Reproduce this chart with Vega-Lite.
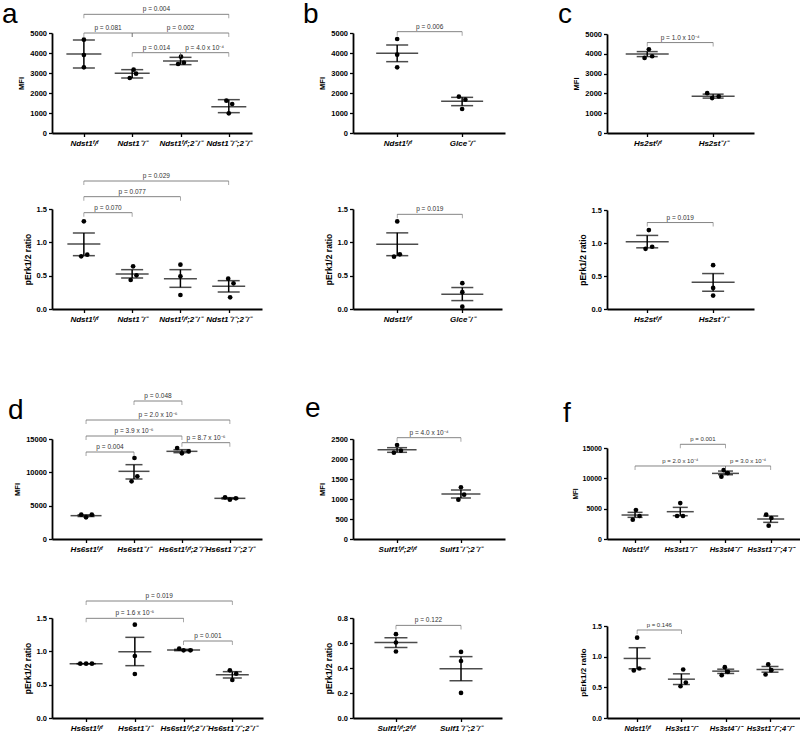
{
"$schema": "https://vega.github.io/schema/vega-lite/v6.json",
"padding": {"left": 2, "top": 0, "right": 0, "bottom": 0},
"background": "white",
"datasets": {
"pts": [
{"p":"aM","x":1,"v":4667},{"p":"aM","x":1,"v":3900},{"p":"aM","x":1,"v":3283},
{"p":"aM","x":2.03,"v":3167},{"p":"aM","x":2.08,"v":2967},{"p":"aM","x":1.95,"v":2750},
{"p":"aM","x":3.01,"v":3817},{"p":"aM","x":3.07,"v":3517},{"p":"aM","x":2.95,"v":3450},
{"p":"aM","x":3.95,"v":1617},{"p":"aM","x":4.07,"v":1450},{"p":"aM","x":4,"v":983},
{"p":"aE","x":1,"v":1.315},{"p":"aE","x":0.945,"v":0.79},{"p":"aE","x":1.07,"v":0.815},
{"p":"aE","x":2.02,"v":0.64},{"p":"aE","x":2.09,"v":0.505},{"p":"aE","x":1.97,"v":0.435},
{"p":"aE","x":3,"v":0.665},{"p":"aE","x":3,"v":0.49},{"p":"aE","x":3,"v":0.21},
{"p":"aE","x":3.99,"v":0.455},{"p":"aE","x":4.1,"v":0.385},{"p":"aE","x":4.03,"v":0.175},
{"p":"bM","x":1,"v":4700},{"p":"bM","x":1,"v":3917},{"p":"bM","x":1,"v":3283},
{"p":"bM","x":1.95,"v":1817},{"p":"bM","x":2.05,"v":1667},{"p":"bM","x":2,"v":1200},
{"p":"bE","x":1,"v":1.313},{"p":"bE","x":0.95,"v":0.785},{"p":"bE","x":1.04,"v":0.82},
{"p":"bE","x":2,"v":0.387},{"p":"bE","x":2,"v":0.252},{"p":"bE","x":2,"v":0.035},
{"p":"cM","x":1.025,"v":4228},{"p":"cM","x":0.96,"v":3792},{"p":"cM","x":1.075,"v":3876},
{"p":"cM","x":1.91,"v":2013},{"p":"cM","x":1.985,"v":1762},{"p":"cM","x":2.085,"v":1846},
{"p":"cE","x":1.025,"v":1.196},{"p":"cE","x":0.975,"v":0.912},{"p":"cE","x":1.075,"v":0.943},
{"p":"cE","x":2,"v":0.664},{"p":"cE","x":2,"v":0.319},{"p":"cE","x":2,"v":0.203},
{"p":"dM","x":0.9,"v":3650},{"p":"dM","x":1,"v":3250},{"p":"dM","x":1.12,"v":3650},
{"p":"dM","x":2.01,"v":12150},{"p":"dM","x":2.07,"v":9400},{"p":"dM","x":1.95,"v":8650},
{"p":"dM","x":2.9,"v":13650},{"p":"dM","x":3,"v":12850},{"p":"dM","x":3.14,"v":13150},
{"p":"dM","x":3.9,"v":6250},{"p":"dM","x":4,"v":5900},{"p":"dM","x":4.125,"v":6100},
{"p":"dE","x":0.88,"v":0.815},{"p":"dE","x":1,"v":0.815},{"p":"dE","x":1.12,"v":0.815},
{"p":"dE","x":2,"v":1.4},{"p":"dE","x":2,"v":0.93},{"p":"dE","x":2,"v":0.66},
{"p":"dE","x":2.91,"v":1.04},{"p":"dE","x":3,"v":1.015},{"p":"dE","x":3.14,"v":1.015},
{"p":"dE","x":3.95,"v":0.715},{"p":"dE","x":4.08,"v":0.665},{"p":"dE","x":4,"v":0.57},
{"p":"eM","x":1,"v":2350},{"p":"eM","x":0.95,"v":2158},{"p":"eM","x":1.06,"v":2208},
{"p":"eM","x":2,"v":1292},{"p":"eM","x":2.05,"v":1108},{"p":"eM","x":1.96,"v":983},
{"p":"eE","x":1,"v":0.671},{"p":"eE","x":1,"v":0.604},{"p":"eE","x":1,"v":0.532},
{"p":"eE","x":2,"v":0.529},{"p":"eE","x":2,"v":0.456},{"p":"eE","x":2,"v":0.201},
{"p":"fM","x":1.02,"v":4776},{"p":"fM","x":1.1,"v":3788},{"p":"fM","x":0.95,"v":3184},
{"p":"fM","x":2,"v":5929},{"p":"fM","x":1.93,"v":3788},{"p":"fM","x":2.06,"v":3788},
{"p":"fM","x":2.96,"v":11364},{"p":"fM","x":3.05,"v":10870},{"p":"fM","x":2.91,"v":10266},
{"p":"fM","x":3.9,"v":4008},{"p":"fM","x":4.015,"v":3459},{"p":"fM","x":3.955,"v":2196},
{"p":"fE","x":1,"v":1.309},{"p":"fE","x":0.925,"v":0.775},{"p":"fE","x":1.05,"v":0.807},
{"p":"fE","x":2.04,"v":0.791},{"p":"fE","x":2.1,"v":0.578},{"p":"fE","x":1.98,"v":0.518},
{"p":"fE","x":2.98,"v":0.829},{"p":"fE","x":3.05,"v":0.753},{"p":"fE","x":2.91,"v":0.698},
{"p":"fE","x":3.96,"v":0.873},{"p":"fE","x":4.03,"v":0.78},{"p":"fE","x":3.9,"v":0.709}
],
"sum": [
{"p":"aM","x":1,"m":3950,"lo":3250,"hi":4650},
{"p":"aM","x":2,"m":2983,"lo":2750,"hi":3167},
{"p":"aM","x":3,"m":3600,"lo":3417,"hi":3783},
{"p":"aM","x":4,"m":1317,"lo":1017,"hi":1667},
{"p":"aE","x":1,"m":0.975,"lo":0.8,"hi":1.14},
{"p":"aE","x":2,"m":0.525,"lo":0.465,"hi":0.59},
{"p":"aE","x":3,"m":0.455,"lo":0.325,"hi":0.59},
{"p":"aE","x":4,"m":0.34,"lo":0.255,"hi":0.425},
{"p":"bM","x":1,"m":3983,"lo":3567,"hi":4400},
{"p":"bM","x":2,"m":1583,"lo":1367,"hi":1783},
{"p":"bE","x":1,"m":0.971,"lo":0.8,"hi":1.142},
{"p":"bE","x":2,"m":0.221,"lo":0.126,"hi":0.322},
{"p":"cM","x":1,"m":3993,"lo":3859,"hi":4111},
{"p":"cM","x":2,"m":1862,"lo":1762,"hi":1963},
{"p":"cE","x":1,"m":1.019,"lo":0.927,"hi":1.115},
{"p":"cE","x":2,"m":0.405,"lo":0.269,"hi":0.537},
{"p":"dM","x":1,"m":3500,"lo":3370,"hi":3630},
{"p":"dM","x":2,"m":10150,"lo":9000,"hi":11150},
{"p":"dM","x":3,"m":13150,"lo":12950,"hi":13400},
{"p":"dM","x":4,"m":6100,"lo":6000,"hi":6200},
{"p":"dE","x":1,"m":0.815,"lo":0.815,"hi":0.815},
{"p":"dE","x":2,"m":0.995,"lo":0.785,"hi":1.21},
{"p":"dE","x":3,"m":1.02,"lo":1.01,"hi":1.03},
{"p":"dE","x":4,"m":0.65,"lo":0.6,"hi":0.695},
{"p":"eM","x":1,"m":2233,"lo":2167,"hi":2283},
{"p":"eM","x":2,"m":1125,"lo":1025,"hi":1225},
{"p":"eE","x":1,"m":0.604,"lo":0.564,"hi":0.642},
{"p":"eE","x":2,"m":0.395,"lo":0.298,"hi":0.491},
{"p":"fM","x":1,"m":3953,"lo":3568,"hi":4392},
{"p":"fM","x":2,"m":4502,"lo":3843,"hi":5215},
{"p":"fM","x":3,"m":10815,"lo":10595,"hi":11199},
{"p":"fM","x":4,"m":3294,"lo":2745,"hi":3788},
{"p":"fE","x":1,"m":0.971,"lo":0.802,"hi":1.146},
{"p":"fE","x":2,"m":0.633,"lo":0.546,"hi":0.72},
{"p":"fE","x":3,"m":0.764,"lo":0.726,"hi":0.796},
{"p":"fE","x":4,"m":0.791,"lo":0.747,"hi":0.84}
],
"brk": [
{"p":"aM","x1":1,"x2":4,"xm":2.5,"y":5933,"t":"p = 0.004"},
{"p":"aM","x1":1,"x2":2,"xm":1.5,"y":5000,"t":"p = 0.081"},
{"p":"aM","x1":2,"x2":4,"xm":3,"y":5000,"t":"p = 0.002"},
{"p":"aM","x1":2,"x2":3,"xm":2.5,"y":4017,"t":"p = 0.014"},
{"p":"aM","x1":3,"x2":4,"xm":3.5,"y":4017,"t":"p = 4.0 x 10⁻⁴"},
{"p":"aE","x1":1,"x2":4,"xm":2.5,"y":1.92,"t":"p = 0.029"},
{"p":"aE","x1":1,"x2":3,"xm":2,"y":1.685,"t":"p = 0.077"},
{"p":"aE","x1":1,"x2":2,"xm":1.5,"y":1.445,"t":"p = 0.070"},
{"p":"bM","x1":1,"x2":2,"xm":1.5,"y":5067,"t":"p = 0.006"},
{"p":"bE","x1":1,"x2":2,"xm":1.5,"y":1.42,"t":"p = 0.019"},
{"p":"cM","x1":1,"x2":2,"xm":1.5,"y":4567,"t":"p = 1.0 x 10⁻⁴"},
{"p":"cE","x1":1,"x2":2,"xm":1.5,"y":1.31,"t":"p = 0.019"},
{"p":"dM","x1":2,"x2":3,"xm":2.5,"y":20700,"t":"p = 0.048"},
{"p":"dM","x1":1,"x2":4,"xm":2.5,"y":17850,"t":"p = 2.0 x 10⁻⁶"},
{"p":"dM","x1":1,"x2":3,"xm":2,"y":15450,"t":"p = 3.9 x 10⁻⁶"},
{"p":"dM","x1":1,"x2":2,"xm":1.5,"y":13050,"t":"p = 0.004"},
{"p":"dM","x1":3,"x2":4,"xm":3.5,"y":14450,"t":"p = 8.7 x 10⁻⁶"},
{"p":"dE","x1":1,"x2":4,"xm":2.5,"y":1.755,"t":"p = 0.019"},
{"p":"dE","x1":1,"x2":3,"xm":2,"y":1.495,"t":"p = 1.6 x 10⁻⁵"},
{"p":"dE","x1":3,"x2":4,"xm":3.5,"y":1.155,"t":"p = 0.001"},
{"p":"eM","x1":1,"x2":2,"xm":1.5,"y":2533,"t":"p = 4.0 x 10⁻⁴"},
{"p":"eE","x1":1,"x2":2,"xm":1.5,"y":0.741,"t":"p = 0.122"},
{"p":"fM","x1":2,"x2":3,"xm":2.5,"y":15610,"t":"p = 0.001"},
{"p":"fM","x1":1,"x2":3,"xm":2,"y":12033,"t":"p = 2.0 x 10⁻⁴"},
{"p":"fM","x1":3,"x2":4,"xm":3.5,"y":12033,"t":"p = 3.0 x 10⁻⁴"},
{"p":"fE","x1":1,"x2":2,"xm":1.5,"y":1.435,"t":"p = 0.146"}
]
},
"bounds": "flush",
"columns": 3,
"align": {"row": "each", "column": "each"},
"spacing": {"row": 0, "column": 90},
"concat": [
{"width": 200, "height": 100, "title": {"text": "a", "dx": -50, "dy": 27},
"layer": [
{"data": {"name": "pts"}, "transform": [{"filter": "datum.p=='aM'"}], "mark": {"type": "circle", "size": 22, "color": "black", "opacity": 1},
"encoding": {"x": {"field": "x", "type": "quantitative", "scale": {"domain": [0.34, 4.48], "nice": false, "zero": false}, "axis": {"values": [1,2,3,4], "tickCount": 10, "title": null, "labelExpr": "['','Ndst1ᶠ/ᶠ','Ndst1⁻/⁻','Ndst1ᶠ/ᶠ;2⁻/⁻','Ndst1⁻/⁻;2⁻/⁻'][datum.value]"}},
"y": {"field": "v", "type": "quantitative", "scale": {"domain": [0, 5000], "nice": false}, "axis": {"values": [0,1000,2000,3000,4000,5000], "tickCount": 10, "format": "d", "title": "MFI"}}}},
{"data": {"name": "sum"}, "transform": [{"filter": "datum.p=='aM'"}], "encoding": {"x": {"field": "x", "type": "quantitative"}},
"layer": [
{"mark": {"type": "tick", "orient": "horizontal", "size": 35}, "encoding": {"y": {"field": "m", "type": "quantitative"}}},
{"mark": {"type": "rule"}, "encoding": {"y": {"field": "lo", "type": "quantitative"}, "y2": {"field": "hi"}}},
{"mark": {"type": "tick", "orient": "horizontal", "size": 22}, "encoding": {"y": {"field": "lo", "type": "quantitative"}}},
{"mark": {"type": "tick", "orient": "horizontal", "size": 22}, "encoding": {"y": {"field": "hi", "type": "quantitative"}}}]},
{"data": {"name": "brk"}, "transform": [{"filter": "datum.p=='aM'"}], "encoding": {"y": {"field": "y", "type": "quantitative"}},
"layer": [
{"mark": {"type": "rule", "color": "#666", "strokeWidth": 0.8}, "encoding": {"x": {"field": "x1", "type": "quantitative"}, "x2": {"field": "x2"}}},
{"mark": {"type": "tick", "orient": "vertical", "size": 4, "yOffset": 2, "thickness": 0.8, "color": "#666"}, "encoding": {"x": {"field": "x1", "type": "quantitative"}}},
{"mark": {"type": "tick", "orient": "vertical", "size": 4, "yOffset": 2, "thickness": 0.8, "color": "#666"}, "encoding": {"x": {"field": "x2", "type": "quantitative"}}},
{"mark": {"type": "text", "dy": -3, "fontSize": 6.5, "baseline": "alphabetic", "color": "#333"}, "encoding": {"x": {"field": "xm", "type": "quantitative"}, "text": {"field": "t"}}}]}
]},
{"width": 152, "height": 100, "title": {"text": "b", "dx": -50, "dy": 9},
"layer": [
{"data": {"name": "pts"}, "transform": [{"filter": "datum.p=='bM'"}], "mark": {"type": "circle", "size": 22, "color": "black", "opacity": 1},
"encoding": {"x": {"field": "x", "type": "quantitative", "scale": {"domain": [0.32, 2.66], "nice": false, "zero": false}, "axis": {"values": [1,2], "tickCount": 10, "title": null, "labelExpr": "['','Ndst1ᶠ/ᶠ','Glce⁻/⁻'][datum.value]"}},
"y": {"field": "v", "type": "quantitative", "scale": {"domain": [0, 5000], "nice": false}, "axis": {"values": [0,1000,2000,3000,4000,5000], "tickCount": 10, "format": "d", "title": "MFI"}}}},
{"data": {"name": "sum"}, "transform": [{"filter": "datum.p=='bM'"}], "encoding": {"x": {"field": "x", "type": "quantitative"}},
"layer": [
{"mark": {"type": "tick", "orient": "horizontal", "size": 42}, "encoding": {"y": {"field": "m", "type": "quantitative"}}},
{"mark": {"type": "rule"}, "encoding": {"y": {"field": "lo", "type": "quantitative"}, "y2": {"field": "hi"}}},
{"mark": {"type": "tick", "orient": "horizontal", "size": 22}, "encoding": {"y": {"field": "lo", "type": "quantitative"}}},
{"mark": {"type": "tick", "orient": "horizontal", "size": 22}, "encoding": {"y": {"field": "hi", "type": "quantitative"}}}]},
{"data": {"name": "brk"}, "transform": [{"filter": "datum.p=='bM'"}], "encoding": {"y": {"field": "y", "type": "quantitative"}},
"layer": [
{"mark": {"type": "rule", "color": "#666", "strokeWidth": 0.8}, "encoding": {"x": {"field": "x1", "type": "quantitative"}, "x2": {"field": "x2"}}},
{"mark": {"type": "tick", "orient": "vertical", "size": 4, "yOffset": 2, "thickness": 0.8, "color": "#666"}, "encoding": {"x": {"field": "x1", "type": "quantitative"}}},
{"mark": {"type": "tick", "orient": "vertical", "size": 4, "yOffset": 2, "thickness": 0.8, "color": "#666"}, "encoding": {"x": {"field": "x2", "type": "quantitative"}}},
{"mark": {"type": "text", "dy": -3, "fontSize": 6.5, "baseline": "alphabetic", "color": "#333"}, "encoding": {"x": {"field": "xm", "type": "quantitative"}, "text": {"field": "t"}}}]}
]},
{"width": 147, "height": 100, "title": {"text": "c", "dx": -49, "dy": 3},
"layer": [
{"data": {"name": "pts"}, "transform": [{"filter": "datum.p=='cM'"}], "mark": {"type": "circle", "size": 22, "color": "black", "opacity": 1},
"encoding": {"x": {"field": "x", "type": "quantitative", "scale": {"domain": [0.39, 2.62], "nice": false, "zero": false}, "axis": {"values": [1,2], "tickCount": 10, "title": null, "labelExpr": "['','Hs2stᶠ/ᶠ','Hs2st⁻/⁻'][datum.value]"}},
"y": {"field": "v", "type": "quantitative", "scale": {"domain": [0, 5000], "nice": false, "range": [100, 1]}, "axis": {"values": [0,1000,2000,3000,4000,5000], "tickCount": 10, "format": "d", "title": "MFI"}}}},
{"data": {"name": "sum"}, "transform": [{"filter": "datum.p=='cM'"}], "encoding": {"x": {"field": "x", "type": "quantitative"}},
"layer": [
{"mark": {"type": "tick", "orient": "horizontal", "size": 43}, "encoding": {"y": {"field": "m", "type": "quantitative"}}},
{"mark": {"type": "rule"}, "encoding": {"y": {"field": "lo", "type": "quantitative"}, "y2": {"field": "hi"}}},
{"mark": {"type": "tick", "orient": "horizontal", "size": 21}, "encoding": {"y": {"field": "lo", "type": "quantitative"}}},
{"mark": {"type": "tick", "orient": "horizontal", "size": 21}, "encoding": {"y": {"field": "hi", "type": "quantitative"}}}]},
{"data": {"name": "brk"}, "transform": [{"filter": "datum.p=='cM'"}], "encoding": {"y": {"field": "y", "type": "quantitative"}},
"layer": [
{"mark": {"type": "rule", "color": "#666", "strokeWidth": 0.8}, "encoding": {"x": {"field": "x1", "type": "quantitative"}, "x2": {"field": "x2"}}},
{"mark": {"type": "tick", "orient": "vertical", "size": 4, "yOffset": 2, "thickness": 0.8, "color": "#666"}, "encoding": {"x": {"field": "x1", "type": "quantitative"}}},
{"mark": {"type": "tick", "orient": "vertical", "size": 4, "yOffset": 2, "thickness": 0.8, "color": "#666"}, "encoding": {"x": {"field": "x2", "type": "quantitative"}}},
{"mark": {"type": "text", "dy": -3, "fontSize": 6.5, "baseline": "alphabetic", "color": "#333"}, "encoding": {"x": {"field": "xm", "type": "quantitative"}, "text": {"field": "t"}}}]}
]},
{"width": 1, "height": 76, "data": {"values": []}, "mark": "point"},
{"width": 164, "height": 76, "data": {"values": []}, "mark": "point"},
{"width": 1, "height": 76, "data": {"values": []}, "mark": "point"},
{"width": 210, "height": 100,
"layer": [
{"data": {"name": "pts"}, "transform": [{"filter": "datum.p=='aE'"}], "mark": {"type": "circle", "size": 22, "color": "black", "opacity": 1},
"encoding": {"x": {"field": "x", "type": "quantitative", "scale": {"domain": [0.34, 4.69], "nice": false, "zero": false}, "axis": {"values": [1,2,3,4], "tickCount": 10, "title": null, "labelExpr": "['','Ndst1ᶠ/ᶠ','Ndst1⁻/⁻','Ndst1ᶠ/ᶠ;2⁻/⁻','Ndst1⁻/⁻;2⁻/⁻'][datum.value]"}},
"y": {"field": "v", "type": "quantitative", "scale": {"domain": [0, 1.5], "nice": false}, "axis": {"values": [0,0.5,1,1.5], "tickCount": 10, "format": ".1f", "title": "pErk1/2 ratio", "titleFontSize": 8.5}}}},
{"data": {"name": "sum"}, "transform": [{"filter": "datum.p=='aE'"}], "encoding": {"x": {"field": "x", "type": "quantitative"}},
"layer": [
{"mark": {"type": "tick", "orient": "horizontal", "size": 33}, "encoding": {"y": {"field": "m", "type": "quantitative"}}},
{"mark": {"type": "rule"}, "encoding": {"y": {"field": "lo", "type": "quantitative"}, "y2": {"field": "hi"}}},
{"mark": {"type": "tick", "orient": "horizontal", "size": 22}, "encoding": {"y": {"field": "lo", "type": "quantitative"}}},
{"mark": {"type": "tick", "orient": "horizontal", "size": 22}, "encoding": {"y": {"field": "hi", "type": "quantitative"}}}]},
{"data": {"name": "brk"}, "transform": [{"filter": "datum.p=='aE'"}], "encoding": {"y": {"field": "y", "type": "quantitative"}},
"layer": [
{"mark": {"type": "rule", "color": "#666", "strokeWidth": 0.8}, "encoding": {"x": {"field": "x1", "type": "quantitative"}, "x2": {"field": "x2"}}},
{"mark": {"type": "tick", "orient": "vertical", "size": 4, "yOffset": 2, "thickness": 0.8, "color": "#666"}, "encoding": {"x": {"field": "x1", "type": "quantitative"}}},
{"mark": {"type": "tick", "orient": "vertical", "size": 4, "yOffset": 2, "thickness": 0.8, "color": "#666"}, "encoding": {"x": {"field": "x2", "type": "quantitative"}}},
{"mark": {"type": "text", "dy": -3, "fontSize": 6.5, "baseline": "alphabetic", "color": "#333"}, "encoding": {"x": {"field": "xm", "type": "quantitative"}, "text": {"field": "t"}}}]}
]},
{"width": 149, "height": 100,
"layer": [
{"data": {"name": "pts"}, "transform": [{"filter": "datum.p=='bE'"}], "mark": {"type": "circle", "size": 22, "color": "black", "opacity": 1},
"encoding": {"x": {"field": "x", "type": "quantitative", "scale": {"domain": [0.32, 2.61], "nice": false, "zero": false}, "axis": {"values": [1,2], "tickCount": 10, "title": null, "labelExpr": "['','Ndst1ᶠ/ᶠ','Glce⁻/⁻'][datum.value]"}},
"y": {"field": "v", "type": "quantitative", "scale": {"domain": [0, 1.5], "nice": false}, "axis": {"values": [0,0.5,1,1.5], "tickCount": 10, "format": ".1f", "title": "pErk1/2 ratio", "titleFontSize": 8.5}}}},
{"data": {"name": "sum"}, "transform": [{"filter": "datum.p=='bE'"}], "encoding": {"x": {"field": "x", "type": "quantitative"}},
"layer": [
{"mark": {"type": "tick", "orient": "horizontal", "size": 42}, "encoding": {"y": {"field": "m", "type": "quantitative"}}},
{"mark": {"type": "rule"}, "encoding": {"y": {"field": "lo", "type": "quantitative"}, "y2": {"field": "hi"}}},
{"mark": {"type": "tick", "orient": "horizontal", "size": 22}, "encoding": {"y": {"field": "lo", "type": "quantitative"}}},
{"mark": {"type": "tick", "orient": "horizontal", "size": 22}, "encoding": {"y": {"field": "hi", "type": "quantitative"}}}]},
{"data": {"name": "brk"}, "transform": [{"filter": "datum.p=='bE'"}], "encoding": {"y": {"field": "y", "type": "quantitative"}},
"layer": [
{"mark": {"type": "rule", "color": "#666", "strokeWidth": 0.8}, "encoding": {"x": {"field": "x1", "type": "quantitative"}, "x2": {"field": "x2"}}},
{"mark": {"type": "tick", "orient": "vertical", "size": 4, "yOffset": 2, "thickness": 0.8, "color": "#666"}, "encoding": {"x": {"field": "x1", "type": "quantitative"}}},
{"mark": {"type": "tick", "orient": "vertical", "size": 4, "yOffset": 2, "thickness": 0.8, "color": "#666"}, "encoding": {"x": {"field": "x2", "type": "quantitative"}}},
{"mark": {"type": "text", "dy": -3, "fontSize": 6.5, "baseline": "alphabetic", "color": "#333"}, "encoding": {"x": {"field": "xm", "type": "quantitative"}, "text": {"field": "t"}}}]}
]},
{"width": 147, "height": 100,
"layer": [
{"data": {"name": "pts"}, "transform": [{"filter": "datum.p=='cE'"}], "mark": {"type": "circle", "size": 22, "color": "black", "opacity": 1},
"encoding": {"x": {"field": "x", "type": "quantitative", "scale": {"domain": [0.39, 2.62], "nice": false, "zero": false}, "axis": {"values": [1,2], "tickCount": 10, "title": null, "labelExpr": "['','Hs2stᶠ/ᶠ','Hs2st⁻/⁻'][datum.value]"}},
"y": {"field": "v", "type": "quantitative", "scale": {"domain": [0, 1.5], "nice": false, "range": [100, 1]}, "axis": {"values": [0,0.5,1,1.5], "tickCount": 10, "format": ".1f", "title": "pErk1/2 ratio", "titleFontSize": 8.5}}}},
{"data": {"name": "sum"}, "transform": [{"filter": "datum.p=='cE'"}], "encoding": {"x": {"field": "x", "type": "quantitative"}},
"layer": [
{"mark": {"type": "tick", "orient": "horizontal", "size": 43}, "encoding": {"y": {"field": "m", "type": "quantitative"}}},
{"mark": {"type": "rule"}, "encoding": {"y": {"field": "lo", "type": "quantitative"}, "y2": {"field": "hi"}}},
{"mark": {"type": "tick", "orient": "horizontal", "size": 22}, "encoding": {"y": {"field": "lo", "type": "quantitative"}}},
{"mark": {"type": "tick", "orient": "horizontal", "size": 22}, "encoding": {"y": {"field": "hi", "type": "quantitative"}}}]},
{"data": {"name": "brk"}, "transform": [{"filter": "datum.p=='cE'"}], "encoding": {"y": {"field": "y", "type": "quantitative"}},
"layer": [
{"mark": {"type": "rule", "color": "#666", "strokeWidth": 0.8}, "encoding": {"x": {"field": "x1", "type": "quantitative"}, "x2": {"field": "x2"}}},
{"mark": {"type": "tick", "orient": "vertical", "size": 4, "yOffset": 2, "thickness": 0.8, "color": "#666"}, "encoding": {"x": {"field": "x1", "type": "quantitative"}}},
{"mark": {"type": "tick", "orient": "vertical", "size": 4, "yOffset": 2, "thickness": 0.8, "color": "#666"}, "encoding": {"x": {"field": "x2", "type": "quantitative"}}},
{"mark": {"type": "text", "dy": -3, "fontSize": 6.5, "baseline": "alphabetic", "color": "#333"}, "encoding": {"x": {"field": "xm", "type": "quantitative"}, "text": {"field": "t"}}}]}
]},
{"width": 1, "height": 130, "data": {"values": []}, "mark": "point"},
{"width": 164, "height": 130, "data": {"values": []}, "mark": "point"},
{"width": 1, "height": 130, "data": {"values": []}, "mark": "point"},
{"width": 210, "height": 100, "title": {"text": "d", "dx": -44, "dy": 36},
"layer": [
{"data": {"name": "pts"}, "transform": [{"filter": "datum.p=='dM'"}], "mark": {"type": "circle", "size": 22, "color": "black", "opacity": 1},
"encoding": {"x": {"field": "x", "type": "quantitative", "scale": {"domain": [0.29, 4.67], "nice": false, "zero": false}, "axis": {"values": [1,2,3,4], "tickCount": 10, "title": null, "labelExpr": "['','Hs6st1ᶠ/ᶠ','Hs6st1⁻/⁻','Hs6st1ᶠ/ᶠ;2⁻/⁻','Hs6st1⁻/⁻;2⁻/⁻'][datum.value]"}},
"y": {"field": "v", "type": "quantitative", "scale": {"domain": [0, 15000], "nice": false}, "axis": {"values": [0,5000,10000,15000], "tickCount": 10, "format": "d", "title": "MFI"}}}},
{"data": {"name": "sum"}, "transform": [{"filter": "datum.p=='dM'"}], "encoding": {"x": {"field": "x", "type": "quantitative"}},
"layer": [
{"mark": {"type": "tick", "orient": "horizontal", "size": 31}, "encoding": {"y": {"field": "m", "type": "quantitative"}}},
{"mark": {"type": "rule"}, "encoding": {"y": {"field": "lo", "type": "quantitative"}, "y2": {"field": "hi"}}},
{"mark": {"type": "tick", "orient": "horizontal", "size": 17}, "encoding": {"y": {"field": "lo", "type": "quantitative"}}},
{"mark": {"type": "tick", "orient": "horizontal", "size": 17}, "encoding": {"y": {"field": "hi", "type": "quantitative"}}}]},
{"data": {"name": "brk"}, "transform": [{"filter": "datum.p=='dM'"}], "encoding": {"y": {"field": "y", "type": "quantitative"}},
"layer": [
{"mark": {"type": "rule", "color": "#666", "strokeWidth": 0.8}, "encoding": {"x": {"field": "x1", "type": "quantitative"}, "x2": {"field": "x2"}}},
{"mark": {"type": "tick", "orient": "vertical", "size": 4, "yOffset": 2, "thickness": 0.8, "color": "#666"}, "encoding": {"x": {"field": "x1", "type": "quantitative"}}},
{"mark": {"type": "tick", "orient": "vertical", "size": 4, "yOffset": 2, "thickness": 0.8, "color": "#666"}, "encoding": {"x": {"field": "x2", "type": "quantitative"}}},
{"mark": {"type": "text", "dy": -3, "fontSize": 6.5, "baseline": "alphabetic", "color": "#333"}, "encoding": {"x": {"field": "xm", "type": "quantitative"}, "text": {"field": "t"}}}]}
]},
{"width": 152, "height": 100, "title": {"text": "e", "dx": -48, "dy": -3},
"layer": [
{"data": {"name": "pts"}, "transform": [{"filter": "datum.p=='eM'"}], "mark": {"type": "circle", "size": 22, "color": "black", "opacity": 1},
"encoding": {"x": {"field": "x", "type": "quantitative", "scale": {"domain": [0.31, 2.69], "nice": false, "zero": false}, "axis": {"values": [1,2], "tickCount": 10, "title": null, "labelExpr": "['','Sulf1ᶠ/ᶠ;2ᶠ/ᶠ','Sulf1⁻/⁻;2⁻/⁻'][datum.value]"}},
"y": {"field": "v", "type": "quantitative", "scale": {"domain": [0, 2500], "nice": false}, "axis": {"values": [0,500,1000,1500,2000,2500], "tickCount": 10, "format": "d", "title": "MFI"}}}},
{"data": {"name": "sum"}, "transform": [{"filter": "datum.p=='eM'"}], "encoding": {"x": {"field": "x", "type": "quantitative"}},
"layer": [
{"mark": {"type": "tick", "orient": "horizontal", "size": 39}, "encoding": {"y": {"field": "m", "type": "quantitative"}}},
{"mark": {"type": "rule"}, "encoding": {"y": {"field": "lo", "type": "quantitative"}, "y2": {"field": "hi"}}},
{"mark": {"type": "tick", "orient": "horizontal", "size": 20}, "encoding": {"y": {"field": "lo", "type": "quantitative"}}},
{"mark": {"type": "tick", "orient": "horizontal", "size": 20}, "encoding": {"y": {"field": "hi", "type": "quantitative"}}}]},
{"data": {"name": "brk"}, "transform": [{"filter": "datum.p=='eM'"}], "encoding": {"y": {"field": "y", "type": "quantitative"}},
"layer": [
{"mark": {"type": "rule", "color": "#666", "strokeWidth": 0.8}, "encoding": {"x": {"field": "x1", "type": "quantitative"}, "x2": {"field": "x2"}}},
{"mark": {"type": "tick", "orient": "vertical", "size": 4, "yOffset": 2, "thickness": 0.8, "color": "#666"}, "encoding": {"x": {"field": "x1", "type": "quantitative"}}},
{"mark": {"type": "tick", "orient": "vertical", "size": 4, "yOffset": 2, "thickness": 0.8, "color": "#666"}, "encoding": {"x": {"field": "x2", "type": "quantitative"}}},
{"mark": {"type": "text", "dy": -3, "fontSize": 6.5, "baseline": "alphabetic", "color": "#333"}, "encoding": {"x": {"field": "xm", "type": "quantitative"}, "text": {"field": "t"}}}]}
]},
{"width": 194, "height": 100, "title": {"text": "f", "dx": -44, "dy": -4},
"layer": [
{"data": {"name": "pts"}, "transform": [{"filter": "datum.p=='fM'"}], "mark": {"type": "circle", "size": 22, "color": "black", "opacity": 1},
"encoding": {"x": {"field": "x", "type": "quantitative", "scale": {"domain": [0.38, 4.67], "nice": false, "zero": false}, "axis": {"values": [1,2,3,4], "tickCount": 10, "title": null, "labelFontSize": 7.5, "labelExpr": "['','Ndst1ᶠ/ᶠ','Hs3st1⁻/⁻','Hs3st4⁻/⁻','Hs3st1⁻/⁻;4⁻/⁻'][datum.value]"}},
"y": {"field": "v", "type": "quantitative", "scale": {"domain": [0, 15000], "nice": false, "range": [100, 9]}, "axis": {"values": [0,5000,10000,15000], "tickCount": 10, "format": "d", "title": "MFI", "labelFontSize": 7, "titleFontSize": 6.5}}}},
{"data": {"name": "sum"}, "transform": [{"filter": "datum.p=='fM'"}], "encoding": {"x": {"field": "x", "type": "quantitative"}},
"layer": [
{"mark": {"type": "tick", "orient": "horizontal", "size": 27}, "encoding": {"y": {"field": "m", "type": "quantitative"}}},
{"mark": {"type": "rule"}, "encoding": {"y": {"field": "lo", "type": "quantitative"}, "y2": {"field": "hi"}}},
{"mark": {"type": "tick", "orient": "horizontal", "size": 15}, "encoding": {"y": {"field": "lo", "type": "quantitative"}}},
{"mark": {"type": "tick", "orient": "horizontal", "size": 15}, "encoding": {"y": {"field": "hi", "type": "quantitative"}}}]},
{"data": {"name": "brk"}, "transform": [{"filter": "datum.p=='fM'"}], "encoding": {"y": {"field": "y", "type": "quantitative"}},
"layer": [
{"mark": {"type": "rule", "color": "#666", "strokeWidth": 0.8}, "encoding": {"x": {"field": "x1", "type": "quantitative"}, "x2": {"field": "x2"}}},
{"mark": {"type": "tick", "orient": "vertical", "size": 4, "yOffset": 2, "thickness": 0.8, "color": "#666"}, "encoding": {"x": {"field": "x1", "type": "quantitative"}}},
{"mark": {"type": "tick", "orient": "vertical", "size": 4, "yOffset": 2, "thickness": 0.8, "color": "#666"}, "encoding": {"x": {"field": "x2", "type": "quantitative"}}},
{"mark": {"type": "text", "dy": -3, "fontSize": 6, "baseline": "alphabetic", "color": "#333"}, "encoding": {"x": {"field": "xm", "type": "quantitative"}, "text": {"field": "t"}}}]}
]},
{"width": 1, "height": 79, "data": {"values": []}, "mark": "point"},
{"width": 164, "height": 79, "data": {"values": []}, "mark": "point"},
{"width": 1, "height": 79, "data": {"values": []}, "mark": "point"},
{"width": 211, "height": 100,
"layer": [
{"data": {"name": "pts"}, "transform": [{"filter": "datum.p=='dE'"}], "mark": {"type": "circle", "size": 22, "color": "black", "opacity": 1},
"encoding": {"x": {"field": "x", "type": "quantitative", "scale": {"domain": [0.3, 4.63], "nice": false, "zero": false}, "axis": {"values": [1,2,3,4], "tickCount": 10, "title": null, "labelExpr": "['','Hs6st1ᶠ/ᶠ','Hs6st1⁻/⁻','Hs6st1ᶠ/ᶠ;2⁻/⁻','Hs6st1⁻/⁻;2⁻/⁻'][datum.value]"}},
"y": {"field": "v", "type": "quantitative", "scale": {"domain": [0, 1.5], "nice": false}, "axis": {"values": [0,0.5,1,1.5], "tickCount": 10, "format": ".1f", "title": "pErk1/2 ratio", "titleFontSize": 8.5}}}},
{"data": {"name": "sum"}, "transform": [{"filter": "datum.p=='dE'"}], "encoding": {"x": {"field": "x", "type": "quantitative"}},
"layer": [
{"mark": {"type": "tick", "orient": "horizontal", "size": 33}, "encoding": {"y": {"field": "m", "type": "quantitative"}}},
{"mark": {"type": "rule"}, "encoding": {"y": {"field": "lo", "type": "quantitative"}, "y2": {"field": "hi"}}},
{"mark": {"type": "tick", "orient": "horizontal", "size": 19}, "encoding": {"y": {"field": "lo", "type": "quantitative"}}},
{"mark": {"type": "tick", "orient": "horizontal", "size": 19}, "encoding": {"y": {"field": "hi", "type": "quantitative"}}}]},
{"data": {"name": "brk"}, "transform": [{"filter": "datum.p=='dE'"}], "encoding": {"y": {"field": "y", "type": "quantitative"}},
"layer": [
{"mark": {"type": "rule", "color": "#666", "strokeWidth": 0.8}, "encoding": {"x": {"field": "x1", "type": "quantitative"}, "x2": {"field": "x2"}}},
{"mark": {"type": "tick", "orient": "vertical", "size": 4, "yOffset": 2, "thickness": 0.8, "color": "#666"}, "encoding": {"x": {"field": "x1", "type": "quantitative"}}},
{"mark": {"type": "tick", "orient": "vertical", "size": 4, "yOffset": 2, "thickness": 0.8, "color": "#666"}, "encoding": {"x": {"field": "x2", "type": "quantitative"}}},
{"mark": {"type": "text", "dy": -3, "fontSize": 6.5, "baseline": "alphabetic", "color": "#333"}, "encoding": {"x": {"field": "xm", "type": "quantitative"}, "text": {"field": "t"}}}]}
]},
{"width": 149, "height": 100,
"layer": [
{"data": {"name": "pts"}, "transform": [{"filter": "datum.p=='eE'"}], "mark": {"type": "circle", "size": 22, "color": "black", "opacity": 1},
"encoding": {"x": {"field": "x", "type": "quantitative", "scale": {"domain": [0.34, 2.63], "nice": false, "zero": false}, "axis": {"values": [1,2], "tickCount": 10, "title": null, "labelExpr": "['','Sulf1ᶠ/ᶠ;2ᶠ/ᶠ','Sulf1⁻/⁻;2⁻/⁻'][datum.value]"}},
"y": {"field": "v", "type": "quantitative", "scale": {"domain": [0, 0.8], "nice": false}, "axis": {"values": [0,0.2,0.4,0.6,0.8], "tickCount": 10, "format": ".1f", "title": "pErk1/2 ratio", "titleFontSize": 8.5}}}},
{"data": {"name": "sum"}, "transform": [{"filter": "datum.p=='eE'"}], "encoding": {"x": {"field": "x", "type": "quantitative"}},
"layer": [
{"mark": {"type": "tick", "orient": "horizontal", "size": 43}, "encoding": {"y": {"field": "m", "type": "quantitative"}}},
{"mark": {"type": "rule"}, "encoding": {"y": {"field": "lo", "type": "quantitative"}, "y2": {"field": "hi"}}},
{"mark": {"type": "tick", "orient": "horizontal", "size": 23}, "encoding": {"y": {"field": "lo", "type": "quantitative"}}},
{"mark": {"type": "tick", "orient": "horizontal", "size": 23}, "encoding": {"y": {"field": "hi", "type": "quantitative"}}}]},
{"data": {"name": "brk"}, "transform": [{"filter": "datum.p=='eE'"}], "encoding": {"y": {"field": "y", "type": "quantitative"}},
"layer": [
{"mark": {"type": "rule", "color": "#666", "strokeWidth": 0.8}, "encoding": {"x": {"field": "x1", "type": "quantitative"}, "x2": {"field": "x2"}}},
{"mark": {"type": "tick", "orient": "vertical", "size": 4, "yOffset": 2, "thickness": 0.8, "color": "#666"}, "encoding": {"x": {"field": "x1", "type": "quantitative"}}},
{"mark": {"type": "tick", "orient": "vertical", "size": 4, "yOffset": 2, "thickness": 0.8, "color": "#666"}, "encoding": {"x": {"field": "x2", "type": "quantitative"}}},
{"mark": {"type": "text", "dy": -3, "fontSize": 6.5, "baseline": "alphabetic", "color": "#333"}, "encoding": {"x": {"field": "xm", "type": "quantitative"}, "text": {"field": "t"}}}]}
]},
{"width": 194, "height": 100,
"layer": [
{"data": {"name": "pts"}, "transform": [{"filter": "datum.p=='fE'"}], "mark": {"type": "circle", "size": 22, "color": "black", "opacity": 1},
"encoding": {"x": {"field": "x", "type": "quantitative", "scale": {"domain": [0.32, 4.7], "nice": false, "zero": false}, "axis": {"values": [1,2,3,4], "tickCount": 10, "title": null, "labelFontSize": 7.5, "labelExpr": "['','Ndst1ᶠ/ᶠ','Hs3st1⁻/⁻','Hs3st4⁻/⁻','Hs3st1⁻/⁻;4⁻/⁻'][datum.value]"}},
"y": {"field": "v", "type": "quantitative", "scale": {"domain": [0, 1.5], "nice": false, "range": [100, 8]}, "axis": {"values": [0,0.5,1,1.5], "tickCount": 10, "format": ".1f", "title": "pErk1/2 ratio", "labelFontSize": 7, "titleFontSize": 8}}}},
{"data": {"name": "sum"}, "transform": [{"filter": "datum.p=='fE'"}], "encoding": {"x": {"field": "x", "type": "quantitative"}},
"layer": [
{"mark": {"type": "tick", "orient": "horizontal", "size": 27}, "encoding": {"y": {"field": "m", "type": "quantitative"}}},
{"mark": {"type": "rule"}, "encoding": {"y": {"field": "lo", "type": "quantitative"}, "y2": {"field": "hi"}}},
{"mark": {"type": "tick", "orient": "horizontal", "size": 17}, "encoding": {"y": {"field": "lo", "type": "quantitative"}}},
{"mark": {"type": "tick", "orient": "horizontal", "size": 17}, "encoding": {"y": {"field": "hi", "type": "quantitative"}}}]},
{"data": {"name": "brk"}, "transform": [{"filter": "datum.p=='fE'"}], "encoding": {"y": {"field": "y", "type": "quantitative"}},
"layer": [
{"mark": {"type": "rule", "color": "#666", "strokeWidth": 0.8}, "encoding": {"x": {"field": "x1", "type": "quantitative"}, "x2": {"field": "x2"}}},
{"mark": {"type": "tick", "orient": "vertical", "size": 4, "yOffset": 2, "thickness": 0.8, "color": "#666"}, "encoding": {"x": {"field": "x1", "type": "quantitative"}}},
{"mark": {"type": "tick", "orient": "vertical", "size": 4, "yOffset": 2, "thickness": 0.8, "color": "#666"}, "encoding": {"x": {"field": "x2", "type": "quantitative"}}},
{"mark": {"type": "text", "dy": -3, "fontSize": 6, "baseline": "alphabetic", "color": "#333"}, "encoding": {"x": {"field": "xm", "type": "quantitative"}, "text": {"field": "t"}}}]}
]}
],
"config": {
"view": {"stroke": null},
"font": "Liberation Sans",
"title": {"fontSize": 28, "fontWeight": "normal", "anchor": "start", "frame": "group", "offset": 0, "baseline": "alphabetic", "color": "black", "font": "Liberation Sans"},
"axis": {"grid": false, "domainColor": "black", "domainWidth": 1.8, "tickColor": "black", "tickWidth": 1.3, "tickSize": 3.5, "labelColor": "black", "labelFont": "Liberation Sans", "labelFontWeight": "bold", "labelFontSize": 7.5, "titleFont": "Liberation Sans", "titleFontWeight": "bold", "titleColor": "black", "titleFontSize": 7.5, "labelPadding": 2, "titlePadding": 4, "labelOverlap": false},
"axisX": {"labelFontStyle": "italic", "labelFontSize": 8, "labelPadding": 3, "labelAngle": 0, "labelFlush": false, "labelOverlap": false, "labelBound": false},
"axisY": {"labelOverlap": false, "labelFlush": false, "labelBound": false},
"tick": {"thickness": 1.5, "color": "black"},
"rule": {"strokeWidth": 1.5, "color": "black"},
"text": {"font": "Liberation Sans"}
}
}
